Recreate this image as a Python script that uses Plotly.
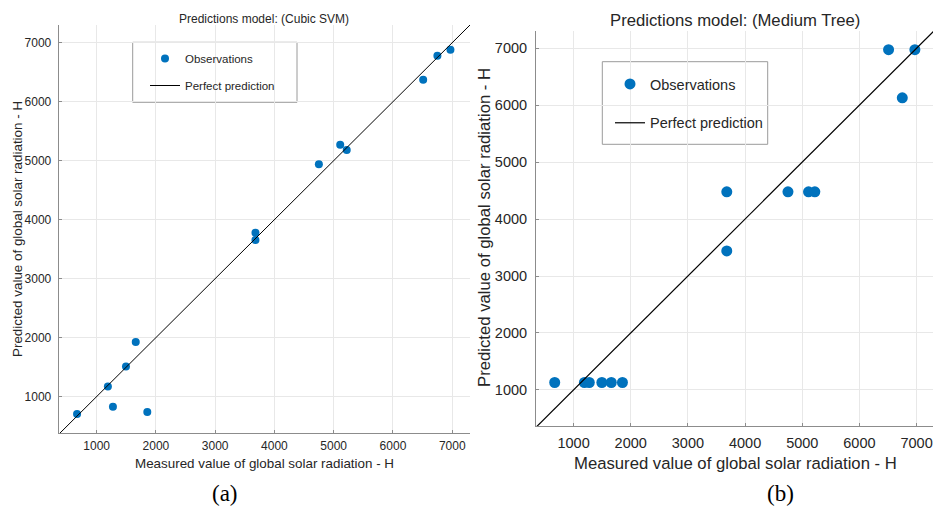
import plotly.graph_objects as go

# ---- data ----
measured = [670, 1190, 1275, 1495, 1660, 1855, 3680, 3680, 4750, 5110, 5220, 6510, 6750, 6970]
pred_svm = [707, 1170, 830, 1510, 1925, 740, 3780, 3655, 4940, 5270, 5180, 6370, 6780, 6880]
pred_tree = [1130, 1130, 1130, 1130, 1130, 1130, 4478, 3440, 4478, 4478, 4478, 6975, 6130, 6975]
perfect = [0, 8000]
ticks = [1000, 2000, 3000, 4000, 5000, 6000, 7000]

W, H = 933, 515
BLUE = "#0072BD"
FONT = "Liberation Sans"
TXT = "#262626"

fig = go.Figure()

fig.add_trace(go.Scatter(x=measured, y=pred_svm, mode="markers", name="Observations",
                         marker=dict(color=BLUE, size=8), xaxis="x", yaxis="y",
                         legend="legend", legendgroup="a1"))
fig.add_trace(go.Scatter(x=perfect, y=perfect, mode="lines", name="Perfect prediction",
                         line=dict(color="black", width=1), xaxis="x", yaxis="y",
                         legend="legend", legendgroup="a2"))
fig.add_trace(go.Scatter(x=measured, y=pred_tree, mode="markers", name="Observations",
                         marker=dict(color=BLUE, size=11), xaxis="x2", yaxis="y2",
                         legend="legend2", legendgroup="b1"))
fig.add_trace(go.Scatter(x=perfect, y=perfect, mode="lines", name="Perfect prediction",
                         line=dict(color="black", width=1.2), xaxis="x2", yaxis="y2",
                         legend="legend2", legendgroup="b2"))

def px_x(p):
    return p / W

def px_y(p):
    return 1 - p / H

axis_common = dict(tickvals=ticks, showgrid=True, gridcolor="#e8e8e8", gridwidth=1,
                   zeroline=False, showline=True, linecolor="#8c8c8c", linewidth=1,
                   ticks="inside", ticklen=3, tickcolor="#8c8c8c", mirror=False)

fig.update_layout(
    width=W, height=H, margin=dict(l=0, r=0, t=0, b=0),
    paper_bgcolor="white", plot_bgcolor="white",
    font=dict(family=FONT, color=TXT),
    xaxis=dict(domain=[px_x(58.7), px_x(470)], range=[360, 7300], anchor="y",
               tickfont=dict(size=12, color=TXT), ticklabelstandoff=2, **axis_common),
    yaxis=dict(domain=[px_y(433), px_y(25)], range=[383, 7300], anchor="x",
               tickfont=dict(size=12, color=TXT), ticklabelstandoff=4, **axis_common),
    xaxis2=dict(domain=[px_x(536), 1.0], range=[343, 7287], anchor="y2",
                tickfont=dict(size=14.5, color=TXT), ticklabelstandoff=4, **axis_common),
    yaxis2=dict(domain=[px_y(426), px_y(31)], range=[366, 7303], anchor="x2",
                tickfont=dict(size=14.5, color=TXT), ticklabelstandoff=5, **axis_common),
    legend=dict(x=px_x(145), y=px_y(44), xanchor="left", yanchor="top",
                bgcolor="rgba(0,0,0,0)", borderwidth=0, tracegroupgap=8,
                font=dict(size=11.5, color=TXT)),
    legend2=dict(x=px_x(610), y=px_y(68), xanchor="left", yanchor="top",
                 bgcolor="rgba(0,0,0,0)", borderwidth=0, tracegroupgap=17,
                 font=dict(size=14.5, color=TXT)),
    shapes=[
        dict(type="rect", xref="paper", yref="paper",
             x0=px_x(132.7), x1=px_x(297), y0=px_y(102.3), y1=px_y(42.3),
             line=dict(color="#9a9a9a", width=1), fillcolor="white", layer="below"),
        dict(type="rect", xref="paper", yref="paper",
             x0=px_x(602.3), x1=px_x(767.7), y0=px_y(144.3), y1=px_y(61.7),
             line=dict(color="#9a9a9a", width=1), fillcolor="white", layer="below"),
    ],
    annotations=[
        dict(text="Predictions model: (Cubic SVM)", x=px_x(264), y=px_y(19), xref="paper", yref="paper",
             showarrow=False, xanchor="center", yanchor="middle", font=dict(size=12, color=TXT)),
        dict(text="Predictions model: (Medium Tree)", x=px_x(735), y=px_y(21), xref="paper", yref="paper",
             showarrow=False, xanchor="center", yanchor="middle", font=dict(size=16.7, color=TXT)),
        dict(text="Measured value of global solar radiation - H", x=px_x(264), y=px_y(463), xref="paper", yref="paper",
             showarrow=False, xanchor="center", yanchor="middle", font=dict(size=13.4, color=TXT)),
        dict(text="Measured value of global solar radiation - H", x=px_x(735), y=px_y(463), xref="paper", yref="paper",
             showarrow=False, xanchor="center", yanchor="middle", font=dict(size=16.7, color=TXT)),
        dict(text="Predicted value of global solar radiation - H", x=px_x(18), y=px_y(229), xref="paper", yref="paper",
             showarrow=False, xanchor="center", yanchor="middle", textangle=-90, font=dict(size=13.4, color=TXT)),
        dict(text="Predicted value of global solar radiation - H", x=px_x(484), y=px_y(228), xref="paper", yref="paper",
             showarrow=False, xanchor="center", yanchor="middle", textangle=-90, font=dict(size=16.7, color=TXT)),
        dict(text="(a)", x=px_x(225), y=px_y(493), xref="paper", yref="paper",
             showarrow=False, xanchor="center", yanchor="middle", font=dict(size=23, color="black", family="Liberation Serif")),
        dict(text="(b)", x=px_x(780), y=px_y(493), xref="paper", yref="paper",
             showarrow=False, xanchor="center", yanchor="middle", font=dict(size=23, color="black", family="Liberation Serif")),
    ],
)

fig.write_html("out.html")
